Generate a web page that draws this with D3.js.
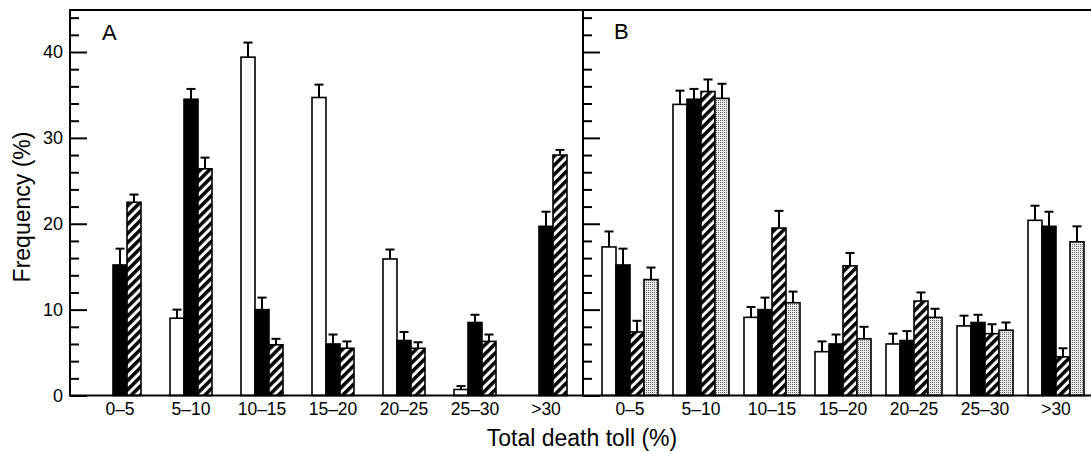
<!DOCTYPE html>
<html>
<head>
<meta charset="utf-8">
<script src="https://cdn.jsdelivr.net/npm/d3@7"></script>
<style>
  html, body { margin: 0; padding: 0; background: #fff; }
  svg { display: block; font-family: "Liberation Sans", Arial, Helvetica, sans-serif; }
</style>
</head>
<body>
<svg id="chart" width="1091" height="452"></svg>
<script>
// ---- Data ----
const categories = ["0–5", "5–10", "10–15", "15–20", "20–25", "25–30", ">30"];

// Panel A (three series)
const seriesA = ["open", "filled", "hatched"];
const aOpen      = [0,    9.0,  39.4, 34.7, 15.9, 0.7, 0];
const aOpenErr   = [0,    1.0,  1.7,  1.5,  1.1,  0.4, 0];
const aFilled    = [15.2, 34.5, 10.0, 6.0,  6.4,  8.5, 19.7];
const aFilledErr = [1.9,  1.2,  1.4,  1.1,  1.0,  0.9, 1.7];
const aHatched   = [22.5, 26.4, 5.9,  5.5,  5.5,  6.3, 28.0];
const aHatchedErr= [0.9,  1.3,  0.7,  0.8,  0.7,  0.8, 0.6];

// Panel B (four series)
const seriesB = ["open", "filled", "hatched", "dotted"];
const bOpen      = [17.3, 33.9, 9.1,  5.1,  6.0,  8.1, 20.4];
const bOpenErr   = [1.8,  1.6,  1.2,  1.2,  1.2,  1.2, 1.7];
const bFilled    = [15.2, 34.5, 10.0, 6.0,  6.4,  8.5, 19.7];
const bFilledErr = [1.9,  1.2,  1.4,  1.1,  1.1,  0.9, 1.7];
const bHatched   = [7.4,  35.4, 19.5, 15.1, 11.0, 7.2, 4.5];
const bHatchedErr= [1.3,  1.4,  2.0,  1.5,  1.0,  1.1, 1.0];
const bDotted    = [13.5, 34.6, 10.8, 6.6,  9.1,  7.6, 17.9];
const bDottedErr = [1.4,  1.7,  1.3,  1.4,  1.0,  0.9, 1.8];

const yMajorTicks = [0, 10, 20, 30, 40];
const yMinorTicks = [2, 4, 6, 8, 12, 14, 16, 18, 22, 24, 26, 28, 32, 34, 36, 38, 42, 44];

const yTitle = "Frequency (%)";
const xTitle = "Total death toll (%)";

// ---- Layout ----
const svg = d3.select("#chart");
const W = 1091;
const leftX = 70, midX = 583, topY = 10, baseY = 395.5;
const barW = 14;

const y = d3.scaleLinear().domain([0, 40]).range([baseY, 52]);

const xA = d3.scaleBand().domain(categories).range([84.5, 581.5]);
const xB = d3.scaleBand().domain(categories).range([594.5, 1091.5]);

// ---- Patterns ----
const defs = svg.append("defs");
const hatch = defs.append("pattern")
  .attr("id", "hatch").attr("patternUnits", "userSpaceOnUse")
  .attr("width", 6.5).attr("height", 6.5)
  .attr("patternTransform", "rotate(45)");
hatch.append("rect").attr("width", 6.5).attr("height", 6.5).attr("fill", "#fff");
hatch.append("rect").attr("width", 3.5).attr("height", 6.5).attr("fill", "#000");

const dots = defs.append("pattern")
  .attr("id", "dots").attr("patternUnits", "userSpaceOnUse")
  .attr("width", 2).attr("height", 2);
dots.append("rect").attr("width", 2).attr("height", 2).attr("fill", "#ebebeb");
dots.append("rect").attr("width", 1).attr("height", 1).attr("fill", "#666");

const fills = { open: "#fff", filled: "#000", hatched: "url(#hatch)", dotted: "url(#dots)" };

// ---- Bars ----
function drawPanel(xScale, seriesNames, vals, errs) {
  const inner = d3.scaleBand().domain(seriesNames)
    .range([-barW * seriesNames.length / 2, barW * seriesNames.length / 2]);
  const g = svg.append("g");
  seriesNames.forEach((s, si) => {
    const data = categories.map((c, i) => ({ c, v: vals[si][i], e: errs[si][i] }));
    const cx = d => xScale(d.c) + xScale.bandwidth() / 2 + inner(s) + inner.bandwidth() / 2;
    g.selectAll(null).data(data.filter(d => d.v > 0)).join("rect")
      .attr("x", d => xScale(d.c) + xScale.bandwidth() / 2 + inner(s))
      .attr("y", d => y(d.v))
      .attr("width", inner.bandwidth())
      .attr("height", d => y(0) - y(d.v))
      .attr("fill", fills[s])
      .attr("stroke", "#000").attr("stroke-width", 1.6);
    const eb = g.selectAll(null).data(data.filter(d => d.v > 0 && d.e > 0)).join("g");
    eb.append("line")
      .attr("x1", cx).attr("x2", cx)
      .attr("y1", d => y(d.v)).attr("y2", d => y(d.v + d.e))
      .attr("stroke", "#000").attr("stroke-width", 2);
    eb.append("line")
      .attr("x1", d => cx(d) - 4.5).attr("x2", d => cx(d) + 4.5)
      .attr("y1", d => y(d.v + d.e)).attr("y2", d => y(d.v + d.e))
      .attr("stroke", "#000").attr("stroke-width", 2);
  });
}

drawPanel(xA, seriesA, [aOpen, aFilled, aHatched], [aOpenErr, aFilledErr, aHatchedErr]);
drawPanel(xB, seriesB, [bOpen, bFilled, bHatched, bDotted], [bOpenErr, bFilledErr, bHatchedErr, bDottedErr]);

// ---- Frame lines ----
svg.append("line").attr("x1", leftX).attr("x2", W).attr("y1", topY).attr("y2", topY)
  .attr("stroke", "#000").attr("stroke-width", 2);
svg.append("line").attr("x1", leftX).attr("x2", W).attr("y1", baseY).attr("y2", baseY)
  .attr("stroke", "#000").attr("stroke-width", 2);

// ---- Y axes ----
function styleAxis(g) {
  g.select(".domain").remove();
  g.selectAll(".tick line").attr("stroke", "#000").attr("stroke-width", 2);
}
const axA = svg.append("g").attr("transform", `translate(${leftX},0)`)
  .call(d3.axisLeft(y).tickValues(yMajorTicks).tickSizeInner(-17).tickSizeOuter(0).tickPadding(7));
styleAxis(axA);
axA.selectAll(".tick text").attr("font-size", 18).attr("fill", "#000")
  .attr("font-family", "'Liberation Sans', Arial, sans-serif");
const axAm = svg.append("g").attr("transform", `translate(${leftX},0)`)
  .call(d3.axisLeft(y).tickValues(yMinorTicks).tickSizeInner(-9).tickSizeOuter(0).tickFormat(""));
styleAxis(axAm);
svg.append("line").attr("x1", leftX).attr("x2", leftX).attr("y1", topY - 1).attr("y2", baseY + 1)
  .attr("stroke", "#000").attr("stroke-width", 2);

const axB = svg.append("g").attr("transform", `translate(${midX},0)`)
  .call(d3.axisRight(y).tickValues(yMajorTicks).tickSize(17).tickFormat(""));
styleAxis(axB);
const axBm = svg.append("g").attr("transform", `translate(${midX},0)`)
  .call(d3.axisRight(y).tickValues(yMinorTicks).tickSize(9).tickFormat(""));
styleAxis(axBm);
svg.append("line").attr("x1", midX).attr("x2", midX).attr("y1", topY).attr("y2", baseY)
  .attr("stroke", "#000").attr("stroke-width", 2);

// ---- X category labels ----
function xLabels(xScale) {
  const g = svg.append("g").attr("transform", `translate(0,${baseY})`)
    .call(d3.axisBottom(xScale).tickSize(0).tickPadding(7));
  g.select(".domain").remove();
  g.selectAll(".tick text").attr("font-size", 17.5).attr("fill", "#000")
    .attr("font-family", "'Liberation Sans', Arial, sans-serif");
}
xLabels(xA);
xLabels(xB);

// ---- Titles ----
svg.append("text").attr("x", 582).attr("y", 446)
  .attr("text-anchor", "middle").attr("font-size", 23).text(xTitle);
svg.append("text").attr("transform", "translate(30,207) rotate(-90)")
  .attr("text-anchor", "middle").attr("font-size", 23).text(yTitle);

svg.append("text").attr("x", 102).attr("y", 40).attr("font-size", 22).text("A");
svg.append("text").attr("x", 614).attr("y", 39).attr("font-size", 22).text("B");
</script>
</body>
</html>
